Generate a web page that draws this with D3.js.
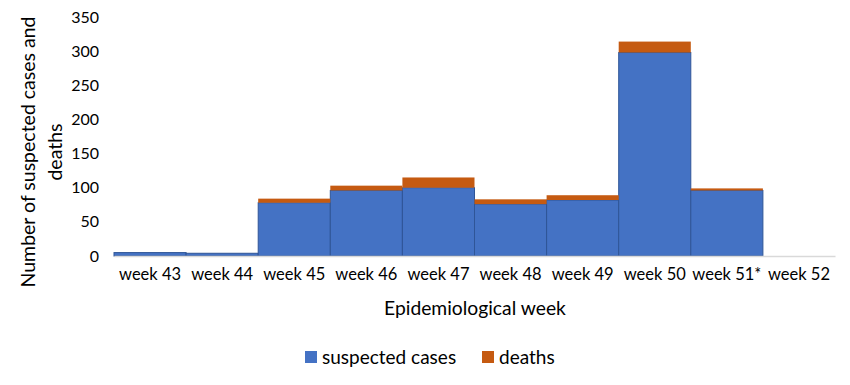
<!DOCTYPE html>
<html>
<head>
<meta charset="utf-8">
<script src="https://cdn.jsdelivr.net/npm/d3@7"></script>
<style>
  body { margin: 0; background: #fff; }
  text { font-family: Lato, "Liberation Sans", sans-serif; fill: #000; }
</style>
</head>
<body>
<svg id="chart" width="850" height="385"></svg>
<script>
const weeks  = ["week 43", "week 44", "week 45", "week 46", "week 47", "week 48", "week 49", "week 50", "week 51*", "week 52"];
const cases  = [5, 4, 78, 96, 100, 76, 82, 298, 96, 0];
const deaths = [0, 0, 6, 7, 15, 7, 7, 16, 3, 0];
const yTicks = [0, 50, 100, 150, 200, 250, 300, 350];

const series = [
  {key: "cases", label: "suspected cases", color: "#4472C4", stroke: "#2F5597"},
  {key: "deaths", label: "deaths", color: "#C55A11", stroke: "none"}
];

const rows = weeks.map((w, i) => ({week: w, cases: cases[i], deaths: deaths[i]}));

const svg = d3.select("#chart");

const x = d3.scaleBand()
  .domain(weeks)
  .range([114, 835])
  .padding(0);

const y = d3.scaleLinear()
  .domain([0, 350])
  .range([256, 17]);

const stacked = d3.stack().keys(series.map(s => s.key))(rows);

svg.append("g")
  .selectAll("g")
  .data(stacked)
  .enter()
  .append("g")
    .attr("fill", (d, i) => series[i].color)
    .attr("stroke", (d, i) => series[i].stroke)
    .attr("stroke-width", 1)
  .selectAll("rect")
  .data(d => d)
  .enter()
  .append("rect")
    .attr("x", d => x(d.data.week))
    .attr("width", x.bandwidth())
    .attr("y", d => y(d[1]))
    .attr("height", d => y(d[0]) - y(d[1]));

// x axis
const xAxis = svg.append("g")
  .attr("transform", `translate(0,${y(0)})`)
  .call(d3.axisBottom(x).tickSize(0).tickPadding(12));
xAxis.select(".domain").attr("stroke", "#d9d9d9").attr("stroke-width", 1.5);
xAxis.selectAll("text").attr("font-size", "16.5px").style("font-family", "Lato, sans-serif");

// y axis
const yAxis = svg.append("g")
  .attr("transform", `translate(99,0)`)
  .call(d3.axisLeft(y).tickValues(yTicks).tickSize(0).tickPadding(0));
yAxis.select(".domain").remove();
yAxis.selectAll("text").attr("font-size", "16px").style("font-family", "Lato, sans-serif");

// axis titles
svg.append("text")
  .attr("x", 475)
  .attr("y", 315)
  .attr("text-anchor", "middle")
  .attr("font-size", "19.3px")
  .text("Epidemiological week");

const yTitle = svg.append("text")
  .attr("transform", "translate(0,152) rotate(-90)")
  .attr("text-anchor", "middle")
  .attr("font-size", "19.5px");
yTitle.append("tspan").attr("x", 0).attr("y", 35).text("Number of suspected cases and");
yTitle.append("tspan").attr("x", 0).attr("y", 62).text("deaths");

// legend
const legend = svg.append("g");
const legendX = [305, 482];
series.forEach((s, i) => {
  legend.append("rect")
    .attr("x", legendX[i])
    .attr("y", 351)
    .attr("width", 12)
    .attr("height", 12)
    .attr("fill", s.color);
  legend.append("text")
    .attr("x", legendX[i] + 17)
    .attr("y", 364)
    .attr("font-size", "19px")
    .text(s.label);
});
</script>
</body>
</html>
